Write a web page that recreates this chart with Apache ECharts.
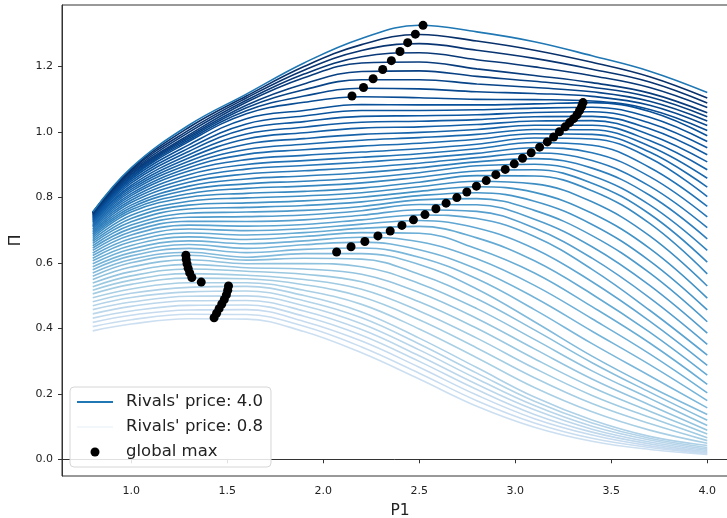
<!DOCTYPE html>
<html>
<head>
<meta charset="utf-8">
<script src="https://cdn.jsdelivr.net/npm/echarts@6/dist/echarts.min.js"></script>
<style>
  html, body { margin: 0; padding: 0; background: #fff; }
  #chart { width: 727px; height: 518px; }
</style>
</head>
<body>
<div id="chart"></div>
<script>
// P1 grid the curves are sampled on
const P1_GRID = [0.8, 1.0, 1.3, 1.6, 1.9, 2.2, 2.5, 2.8, 3.1, 3.4, 3.7, 4.0];

// profit curves, one row per rival price, from 0.8 (bottom) to 4.0 (top)
const PROFIT = [
  [.392, .413, .429, .428, .390, .325, .245, .162, .098, .055, .030, .015],
  [.405, .426, .443, .442, .406, .343, .263, .179, .111, .064, .036, .017],
  [.418, .440, .456, .457, .421, .361, .281, .196, .124, .074, .041, .020],
  [.431, .453, .470, .471, .437, .379, .299, .213, .137, .083, .047, .023],
  [.444, .467, .484, .485, .453, .396, .316, .229, .151, .092, .053, .027],
  [.457, .480, .498, .499, .469, .414, .334, .246, .164, .101, .059, .031],
  [.469, .494, .511, .514, .484, .432, .352, .263, .177, .111, .064, .036],
  [.481, .507, .525, .528, .500, .450, .370, .280, .190, .120, .070, .042],
  [.493, .520, .539, .539, .516, .473, .398, .310, .219, .145, .089, .049],
  [.505, .534, .553, .551, .533, .496, .426, .340, .249, .170, .109, .057],
  [.516, .547, .567, .562, .549, .519, .453, .370, .278, .195, .128, .066],
  [.527, .560, .581, .574, .565, .542, .481, .400, .307, .220, .147, .077],
  [.538, .573, .595, .585, .581, .565, .509, .430, .337, .245, .166, .089],
  [.549, .587, .609, .597, .598, .588, .537, .460, .366, .270, .186, .103],
  [.559, .600, .623, .608, .614, .611, .565, .490, .395, .295, .205, .119],
  [.569, .610, .632, .617, .628, .628, .595, .520, .420, .315, .222, .137],
  [.579, .621, .644, .631, .641, .645, .617, .551, .457, .353, .255, .157],
  [.588, .631, .656, .644, .655, .663, .640, .581, .494, .391, .289, .179],
  [.597, .642, .667, .658, .667, .678, .664, .612, .531, .429, .322, .203],
  [.606, .653, .679, .671, .680, .692, .690, .643, .569, .466, .355, .229],
  [.614, .664, .691, .685, .692, .705, .711, .676, .606, .504, .388, .257],
  [.622, .674, .703, .698, .704, .718, .729, .706, .643, .542, .422, .287],
  [.630, .685, .715, .712, .717, .731, .746, .735, .680, .580, .455, .318],
  [.638, .695, .727, .726, .731, .745, .762, .757, .706, .614, .493, .351],
  [.645, .705, .739, .741, .746, .759, .778, .777, .733, .649, .531, .385],
  [.652, .715, .751, .755, .760, .772, .792, .796, .760, .683, .569, .420],
  [.659, .725, .764, .769, .775, .786, .805, .814, .788, .717, .606, .456],
  [.665, .735, .776, .783, .789, .800, .818, .832, .815, .751, .644, .492],
  [.671, .745, .788, .798, .804, .814, .832, .849, .841, .786, .682, .529],
  [.677, .755, .800, .812, .818, .828, .846, .866, .865, .820, .720, .566],
  [.683, .762, .811, .827, .834, .844, .861, .880, .884, .843, .749, .602],
  [.688, .769, .823, .841, .849, .859, .875, .896, .901, .866, .777, .638],
  [.693, .776, .834, .856, .865, .875, .890, .908, .918, .889, .806, .673],
  [.698, .784, .846, .871, .881, .891, .904, .921, .935, .912, .834, .707],
  [.703, .791, .857, .886, .897, .907, .919, .934, .951, .936, .863, .740],
  [.708, .798, .869, .900, .912, .922, .933, .948, .967, .959, .891, .772],
  [.712, .805, .880, .915, .928, .938, .948, .962, .981, .978, .920, .802],
  [.716, .811, .890, .931, .945, .956, .965, .977, .994, .992, .938, .831],
  [.720, .818, .900, .946, .962, .974, .982, .992, 1.007, 1.006, .956, .858],
  [.724, .824, .910, .962, .979, .992, .998, 1.007, 1.020, 1.020, .973, .884],
  [.728, .830, .920, .978, .997, 1.011, 1.015, 1.022, 1.033, 1.034, .991, .908],
  [.731, .836, .930, .993, 1.014, 1.029, 1.032, 1.037, 1.046, 1.047, 1.009, .930],
  [.734, .843, .940, 1.009, 1.031, 1.047, 1.049, 1.052, 1.059, 1.061, 1.027, .951],
  [.737, .849, .950, 1.024, 1.048, 1.065, 1.065, 1.067, 1.072, 1.075, 1.044, .970],
  [.740, .855, .960, 1.040, 1.065, 1.083, 1.082, 1.082, 1.085, 1.089, 1.062, .988],
  [.743, .860, .970, 1.055, 1.090, 1.107, 1.104, 1.099, 1.098, 1.094, 1.068, 1.004],
  [.745, .864, .975, 1.064, 1.109, 1.133, 1.131, 1.122, 1.117, 1.108, 1.081, 1.019],
  [.747, .868, .980, 1.073, 1.128, 1.159, 1.159, 1.146, 1.135, 1.122, 1.093, 1.033],
  [.749, .871, .985, 1.081, 1.146, 1.184, 1.186, 1.169, 1.154, 1.136, 1.106, 1.046],
  [.751, .875, .990, 1.090, 1.165, 1.210, 1.213, 1.192, 1.172, 1.150, 1.118, 1.058],
  [.752, .879, .998, 1.096, 1.176, 1.229, 1.241, 1.220, 1.198, 1.171, 1.135, 1.074],
  [.753, .883, 1.005, 1.103, 1.188, 1.248, 1.269, 1.249, 1.224, 1.191, 1.152, 1.088],
  [.754, .886, 1.013, 1.109, 1.199, 1.266, 1.297, 1.277, 1.249, 1.212, 1.168, 1.103],
  [.755, .890, 1.020, 1.115, 1.210, 1.285, 1.325, 1.305, 1.275, 1.232, 1.185, 1.120]
];

// global max of each curve
const MAX_P1 = [1.432, 1.445, 1.458, 1.472, 1.485, 1.496, 1.503, 1.507,
  1.365, 1.316, 1.305, 1.297, 1.291, 1.287, 1.285,
  2.07, 2.145, 2.217, 2.285, 2.349, 2.41, 2.47, 2.53, 2.587, 2.64, 2.696, 2.748, 2.798, 2.849, 2.899,
  2.948, 2.995, 3.038, 3.083, 3.127, 3.167, 3.2, 3.23, 3.26, 3.283, 3.304, 3.322, 3.335, 3.346, 3.353,
  2.15, 2.21, 2.26, 2.31, 2.355, 2.40, 2.44, 2.48, 2.52];
const MAX_PROFIT = [0.432, 0.446, 0.460, 0.474, 0.488, 0.502, 0.516, 0.529,
  0.541, 0.555, 0.569, 0.583, 0.597, 0.610, 0.623,
  0.633, 0.649, 0.665, 0.682, 0.697, 0.714, 0.731, 0.747, 0.765, 0.782, 0.799, 0.816, 0.834, 0.851, 0.869,
  0.885, 0.902, 0.919, 0.936, 0.953, 0.969, 0.984, 1.0, 1.015, 1.028, 1.04, 1.052, 1.065, 1.077, 1.089,
  1.109, 1.135, 1.162, 1.19, 1.217, 1.245, 1.272, 1.298, 1.325];

const RIVAL_PRICES = [0.8, 4.0];
const X_TICKS = [1.0, 1.5, 2.0, 2.5, 3.0, 3.5, 4.0];
const Y_TICKS = [0.0, 0.2, 0.4, 0.6, 0.8, 1.0, 1.2];

// matplotlib "Blues"
const BLUES = ['#f7fbff', '#deebf7', '#c6dbef', '#9ecae1', '#6baed6', '#4292c6', '#2171b5', '#08519c', '#08306b'];
function blues(t) {
  const p = Math.max(0, Math.min(1, t)) * (BLUES.length - 1);
  const i = Math.min(BLUES.length - 2, Math.floor(p)), f = p - i;
  const a = parseInt(BLUES[i].slice(1), 16), b = parseInt(BLUES[i + 1].slice(1), 16);
  const ch = s => Math.round(((a >> s) & 255) * (1 - f) + ((b >> s) & 255) * f);
  return 'rgb(' + ch(16) + ',' + ch(8) + ',' + ch(0) + ')';
}

const labelHi = "Rivals' price: " + RIVAL_PRICES[1].toFixed(1);
const labelLo = "Rivals' price: " + RIVAL_PRICES[0].toFixed(1);
const last = PROFIT.length - 1;

const series = PROFIT.map(function (row, k) {
  const color = k === last ? '#1f77b4' : blues(0.22 + 0.78 * k / (last - 1));
  return {
    type: 'line',
    name: k === last ? labelHi : 'curve' + k,
    data: row.map((v, j) => [P1_GRID[j], v]),
    smooth: 0.4,
    symbol: 'none',
    showSymbol: false,
    lineStyle: { width: 1.6, color: color },
    itemStyle: { color: color },
    z: 2
  };
});
// legend entry only (very pale line)
series.push({
  type: 'line', name: labelLo, data: [], symbol: 'none',
  lineStyle: { width: 1.6, color: '#f2f7fc' }, itemStyle: { color: '#f2f7fc' }
});
series.push({
  type: 'scatter', name: 'global max',
  data: MAX_P1.map((x, i) => [x, MAX_PROFIT[i]]),
  symbolSize: 9,
  itemStyle: { color: '#000', opacity: 1 },
  z: 5
});

const chart = echarts.init(document.getElementById('chart'));
chart.setOption({
  animation: false,
  textStyle: { fontFamily: 'DejaVu Sans' },
  grid: {
    left: 62, right: -11, top: 5, bottom: 42,
    show: true, borderColor: '#333', borderWidth: 1,
    outerBoundsMode: 'none'
  },
  legend: {
    left: 70, top: 387,
    orient: 'vertical',
    padding: [6, 8, 6, 6],
    itemWidth: 36, itemHeight: 9, itemGap: 7,
    borderColor: '#d6d6d6', borderWidth: 1, borderRadius: 4,
    backgroundColor: 'rgba(255,255,255,0.85)',
    textStyle: { fontSize: 16.5, color: '#222', lineHeight: 18, padding: [0, 0, 0, 8] },
    data: [
      { name: labelHi, itemStyle: { opacity: 0 } },
      { name: labelLo, itemStyle: { opacity: 0 } },
      { name: 'global max', icon: 'circle' }
    ]
  },
  xAxis: {
    type: 'value', min: 0.64, max: 4.16,
    name: 'P1', nameLocation: 'middle', nameGap: 27,
    nameTextStyle: { fontSize: 15.5, color: '#222' },
    axisLine: { show: true, lineStyle: { color: '#333' } },
    axisTick: { show: true, length: 4, customValues: X_TICKS, lineStyle: { color: '#333' } },
    axisLabel: { customValues: X_TICKS, fontSize: 11, color: '#222', margin: 10,
      formatter: v => v.toFixed(1) },
    splitLine: { show: false }
  },
  yAxis: {
    type: 'value', min: -0.051, max: 1.387,
    name: 'Π', nameLocation: 'middle', nameGap: 38,
    nameTextStyle: { fontSize: 15.5, color: '#222' },
    axisLine: { show: true, lineStyle: { color: '#333' } },
    axisTick: { show: true, length: 4, customValues: Y_TICKS, lineStyle: { color: '#333' } },
    axisLabel: { customValues: Y_TICKS, fontSize: 11, color: '#222', margin: 9,
      formatter: v => v.toFixed(1) },
    splitLine: { show: false }
  },
  series: series
});
</script>
</body>
</html>
